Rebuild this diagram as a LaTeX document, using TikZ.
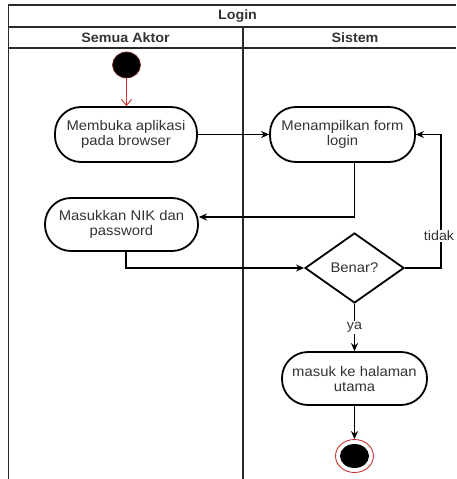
\documentclass[tikz,border=0pt]{standalone}
\usepackage{fontspec}
\setmainfont{Liberation Sans}[FakeStretch=1.06]
\usetikzlibrary{arrows.meta,shapes.geometric}
\definecolor{txt}{HTML}{333333}
\definecolor{redline}{HTML}{CC3333}
\definecolor{framec}{HTML}{2A2A2A}
\begin{document}
\begin{tikzpicture}[x=1pt,y=-1pt,
  frame/.style={draw=framec, line width=1.4pt},
  hdr/.style={font=\fontsize{13.5}{15}\bfseries\selectfont, text=txt, inner sep=0pt},
  act/.style={draw, line width=1.8pt, rounded corners=26pt, align=center,
    font=\fontsize{14}{15}\selectfont, text=txt, inner sep=0pt},
  dec/.style={draw, diamond, line width=1.8pt, minimum width=99pt, minimum height=70pt,
    inner sep=0pt, font=\fontsize{14}{15}\selectfont, text=txt},
  lbl/.style={fill=white, font=\fontsize{13.5}{15}\selectfont, text=txt, inner sep=1pt},
  flow/.style={draw, line width=1.4pt, -{Stealth[length=8pt,width=7pt]}},
  startflow/.style={draw=redline, line width=0.9pt, -{Straight Barb[length=6pt,width=10pt]}},
  startnode/.style={ellipse, fill=black, draw=redline!60!black, line width=0.6pt,
    minimum width=28pt, minimum height=26pt, inner sep=0pt},
  endring/.style={ellipse, fill=white, draw=redline, line width=0.9pt,
    minimum width=38pt, minimum height=33pt, inner sep=0pt},
  enddot/.style={ellipse, fill=black, minimum width=29pt, minimum height=24pt, inner sep=0pt}]
\useasboundingbox (0,0) rectangle (456,479);

% swimlane frame
\draw[frame] (8.5,479) -- (8.5,5) -- (456,5);
\draw[frame] (8.5,27) -- (456,27);
\draw[frame] (8.5,48) -- (456,48);
\draw[frame] (243,27) -- (243,479);
\node[hdr] (title) at (237.5,16) {Login};
\node[hdr] (lane1) at (125.5,37.5) {Semua Aktor};
\node[hdr] (lane2) at (355,37.5) {Sistem};

% activities
\node[startnode] (start) at (126.5,65) {};
\node[act, minimum width=142pt, minimum height=55pt] (open) at (126,134.5) {Membuka aplikasi\\pada browser};
\node[act, minimum width=145pt, minimum height=55pt] (form) at (342.5,134.5) {Menampilkan form\\login};
\node[act, minimum width=153pt, minimum height=53pt] (input) at (121.5,224.5) {Masukkan NIK dan\\password};
\node[dec] (check) at (354.5,268) {Benar?};
\node[act, minimum width=145pt, minimum height=53pt] (home) at (354.5,378.5) {masuk ke halaman\\utama};
\node[endring] (stop) at (354.5,456) {};
\node[enddot] (stopdot) at (354.5,456) {};

% control flow
\draw[startflow] (start.south) -- (start.south |- open.north);
\draw[flow] (open.east) -- (form.west);
\draw[flow] ([xshift=12pt]form.south) |- ([yshift=7.5pt]input.east);
\draw[flow] ([xshift=4.5pt]input.south) |- (check.west);
\draw[flow] (check.east) -- ++(36,0) |- (form.east);
\node[lbl] (no) at (439,236) {tidak};
\draw[flow] (check.south) -- node[lbl] (yes) {ya} (home.north);
\draw[flow] (home.south) -- (stop.north);
\end{tikzpicture}
\end{document}
